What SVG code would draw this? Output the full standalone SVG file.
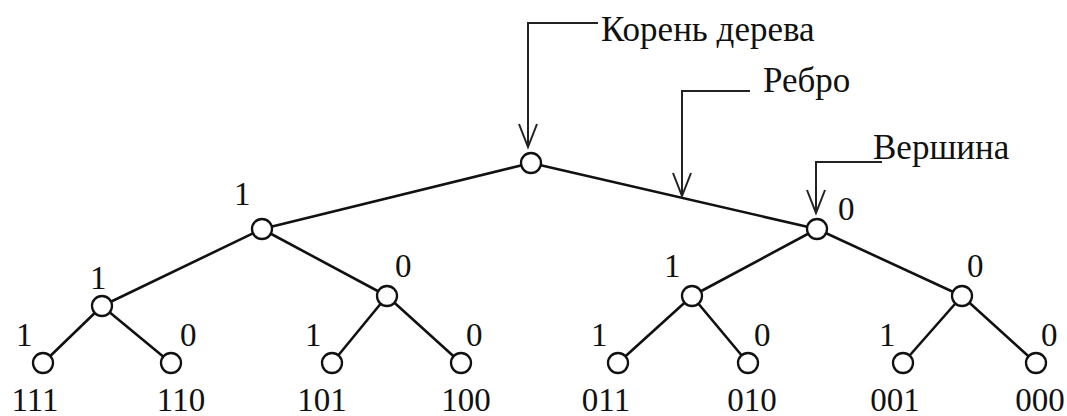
<svg xmlns="http://www.w3.org/2000/svg" width="1067" height="416" viewBox="0 0 1067 416">
<style>
.edge{stroke:#111;stroke-width:2.6;fill:none;stroke-linecap:round}
.node{fill:#fff;stroke:#111;stroke-width:2.3}
.lead{stroke:#222;stroke-width:2;fill:none}
.t{font-family:"Liberation Serif","Times New Roman",serif;fill:#111}
.lab{font-size:33px}
.cap{font-size:35px}
</style>
<defs>
<marker id="v" markerUnits="userSpaceOnUse" markerWidth="30" markerHeight="24" refX="24" refY="10" orient="auto">
<path d="M1 1 L24 10 L1 19" fill="none" stroke="#222" stroke-width="2"/>
</marker>
</defs>
<rect width="1067" height="416" fill="#fff"/>
<g id="connectors">
<line class="edge" x1="531" y1="163" x2="262" y2="229"/>
<line class="edge" x1="531" y1="163" x2="817" y2="229"/>
<line class="edge" x1="262" y1="229" x2="102" y2="306"/>
<line class="edge" x1="262" y1="229" x2="387" y2="296"/>
<line class="edge" x1="817" y1="229" x2="692" y2="296"/>
<line class="edge" x1="817" y1="229" x2="962" y2="296"/>
<line class="edge" x1="102" y1="306" x2="43" y2="363"/>
<line class="edge" x1="102" y1="306" x2="171" y2="363"/>
<line class="edge" x1="387" y1="296" x2="332" y2="363"/>
<line class="edge" x1="387" y1="296" x2="461" y2="363"/>
<line class="edge" x1="692" y1="296" x2="618" y2="363"/>
<line class="edge" x1="692" y1="296" x2="748" y2="363"/>
<line class="edge" x1="962" y1="296" x2="903" y2="363"/>
<line class="edge" x1="962" y1="296" x2="1036" y2="363"/>
</g>
<g id="leaders">
<polyline class="lead" points="598,23 528,23 528,147" marker-end="url(#v)"/>
<polyline class="lead" points="750,91 682,91 682,196" marker-end="url(#v)"/>
<polyline class="lead" points="882,162 816,162 816,213" marker-end="url(#v)"/>
</g>
<g id="root"><circle class="node" cx="531" cy="163" r="10"/></g>
<g id="n1"><circle class="node" cx="262" cy="229" r="10"/><text class="t lab" x="234" y="205">1</text></g>
<g id="n0"><circle class="node" cx="817" cy="229" r="10"/><text class="t lab" x="838" y="220">0</text></g>
<g id="n11"><circle class="node" cx="102" cy="306" r="10"/><text class="t lab" x="90" y="289">1</text></g>
<g id="n10"><circle class="node" cx="387" cy="296" r="10"/><text class="t lab" x="395" y="277">0</text></g>
<g id="n01"><circle class="node" cx="692" cy="296" r="10"/><text class="t lab" x="664" y="277">1</text></g>
<g id="n00"><circle class="node" cx="962" cy="296" r="10"/><text class="t lab" x="967" y="277">0</text></g>
<g id="leaf111"><circle class="node" cx="43" cy="363" r="10"/><text class="t lab" x="16" y="346">1</text><text class="t lab" x="35" y="411" text-anchor="middle">111</text></g>
<g id="leaf110"><circle class="node" cx="171" cy="363" r="10"/><text class="t lab" x="180" y="346">0</text><text class="t lab" x="181" y="411" text-anchor="middle">110</text></g>
<g id="leaf101"><circle class="node" cx="332" cy="363" r="10"/><text class="t lab" x="305" y="346">1</text><text class="t lab" x="322" y="411" text-anchor="middle">101</text></g>
<g id="leaf100"><circle class="node" cx="461" cy="363" r="10"/><text class="t lab" x="466" y="346">0</text><text class="t lab" x="466" y="411" text-anchor="middle">100</text></g>
<g id="leaf011"><circle class="node" cx="618" cy="363" r="10"/><text class="t lab" x="591" y="346">1</text><text class="t lab" x="606" y="411" text-anchor="middle">011</text></g>
<g id="leaf010"><circle class="node" cx="748" cy="363" r="10"/><text class="t lab" x="754" y="346">0</text><text class="t lab" x="752" y="411" text-anchor="middle">010</text></g>
<g id="leaf001"><circle class="node" cx="903" cy="363" r="10"/><text class="t lab" x="879" y="346">1</text><text class="t lab" x="895" y="411" text-anchor="middle">001</text></g>
<g id="leaf000"><circle class="node" cx="1036" cy="363" r="10"/><text class="t lab" x="1041" y="346">0</text><text class="t lab" x="1040" y="411" text-anchor="middle">000</text></g>
<g id="labels">
<text class="t cap" x="601" y="41">Корень дерева</text>
<text class="t cap" x="763" y="92">Ребро</text>
<text class="t cap" x="873" y="159">Вершина</text>
</g>
</svg>
